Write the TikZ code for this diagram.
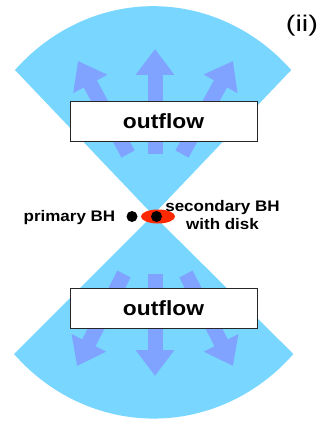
\documentclass[tikz,border=0pt]{standalone}
\usepackage{fontspec}
\setmainfont{Liberation Sans}
\usetikzlibrary{arrows.meta}

\definecolor{conecol}{RGB}{120,214,255}
\definecolor{flowcol}{RGB}{128,163,255}
\definecolor{diskcol}{RGB}{255,40,0}

% lettering is a bit flatter than the plain font
\newcommand{\squash}[2][0.9]{\scalebox{1}[#1]{#2}}

\begin{document}
\begin{tikzpicture}[x=1pt,y=1pt,
  flow/.style={flowcol,line width=15pt,-{Triangle[width=37pt,length=26pt]}},
  flowbox/.style={draw=black!85,line width=0.8pt,fill=white,minimum width=187pt,
    minimum height=40pt,inner sep=0pt,font=\fontsize{22.8}{24}\selectfont\bfseries},
  bh/.style={circle,fill=black,inner sep=0pt,minimum size=11pt},
  lbl/.style={inner sep=0pt,font=\fontsize{17}{18}\selectfont\bfseries}]
\useasboundingbox (0,0) rectangle (327,-425);
\coordinate (apex) at (153,-215);
% the two cones
\fill[conecol] (apex) -- (15,-70) arc[start angle=136,end angle=44,x radius=192,y radius=209] -- cycle;
\fill[conecol] (apex) -- (14,-354) arc[start angle=223,end angle=317,x radius=191,y radius=203] -- cycle;
% outflow arrows, up and down
\foreach \sx/\tx/\ty in {128/78/61,155/155/49,182/233/61}
\draw[flow] (\sx,-154) -- (\tx,-\ty);
\foreach \sx/\tx/\ty in {124/77/366,155/155/376,186/233/366}
\draw[flow] (\sx,-274) -- (\tx,-\ty);
\node[flowbox] (upflow) at (163.5,-121.5) {\squash{outflow}};
\node[flowbox] (downflow) at (163.5,-308) {\squash{outflow}};
% black holes and disk
\fill[diskcol] (158,-216.5) ellipse [x radius=17,y radius=7];
\node[bh] (primary) at (132,-216.5) {};
\node[bh] (secondary) at (156.5,-216.5) {};
\node[lbl,anchor=base east] (primlbl) at (115.5,-221.5) {\squash{primary BH}};
\node[lbl,align=center,anchor=base] (seclbl) at (222.5,-229) {\squash{secondary BH}\\\squash{with disk}};
\node[inner sep=0pt,font=\fontsize{29}{30}\selectfont] (panel) at (302,-26) {\squash[0.78]{(ii)}};
\end{tikzpicture}
\end{document}
